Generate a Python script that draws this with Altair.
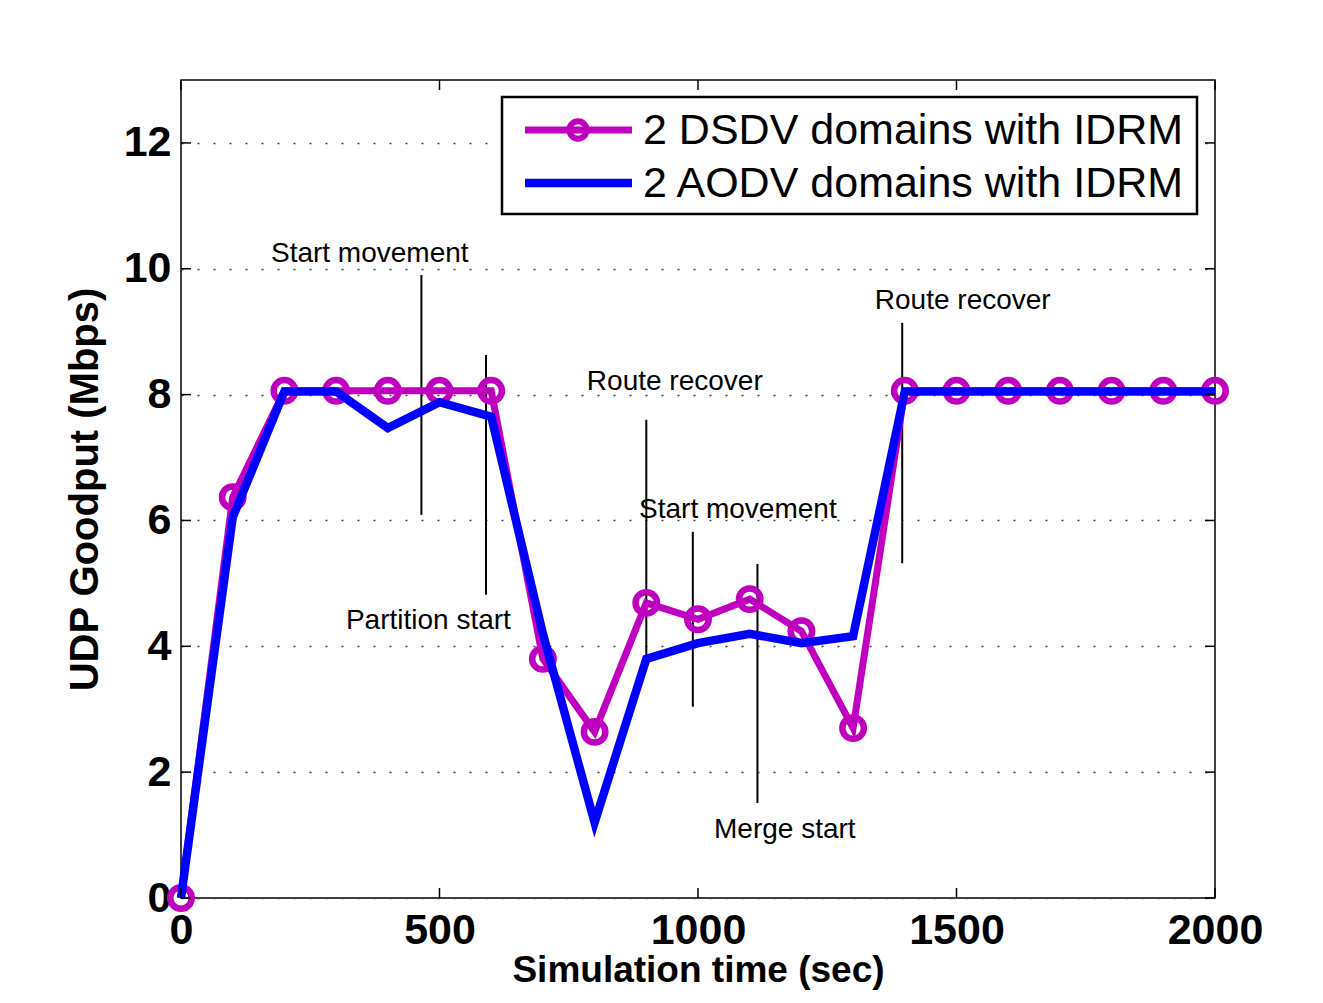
import altair as alt
import pandas as pd

# ---------------- data ----------------
time_sec = [0, 100, 200, 300, 400, 500, 600, 700, 800, 900, 1000,
            1100, 1200, 1300, 1400, 1500, 1600, 1700, 1800, 1900, 2000]
dsdv = [0, 6.37, 8.06, 8.06, 8.06, 8.06, 8.06, 3.80, 2.64, 4.69, 4.43,
        4.75, 4.24, 2.70, 8.06, 8.06, 8.06, 8.06, 8.06, 8.06, 8.06]
aodv = [0, 6.05, 8.05, 8.05, 7.47, 7.88, 7.65, 4.20, 1.20, 3.80, 4.05,
        4.20, 4.05, 4.16, 8.05, 8.05, 8.05, 8.05, 8.05, 8.05, 8.05]

series_names = ["2 DSDV domains with IDRM", "2 AODV domains with IDRM"]

# annotation vertical markers (x, y_top, y_bottom)
mark_x = [465, 590, 900, 990, 1115, 1395]
mark_top = [9.90, 8.63, 7.60, 5.82, 5.31, 9.14]
mark_bot = [6.09, 4.82, 3.78, 3.04, 1.51, 5.32]

# annotation labels (left x, middle y)
note_text = ["Start movement", "Route recover", "Start movement",
             "Partition start", "Merge start", "Route recover"]
note_x = [174, 785, 886, 319, 1031, 1342]
note_y = [10.24, 8.20, 6.17, 4.41, 1.08, 9.48]

x_ticks = [0, 500, 1000, 1500, 2000]
y_ticks = [0, 2, 4, 6, 8, 10, 12]

# ---------------- layout ----------------
W, H = 1034, 818
FONT = "Liberation Sans"
MAGENTA = "#BF00BF"
BLUE = "#0000FF"

df = pd.DataFrame({"t": time_sec, "dsdv": dsdv, "aodv": aodv})
marks_df = pd.DataFrame({"x": mark_x, "y1": mark_top, "y2": mark_bot})
notes_df = pd.DataFrame({"x": note_x, "y": note_y, "label": note_text})
xt_df = pd.DataFrame({"v": x_ticks})
yt_df = pd.DataFrame({"v": y_ticks})
one = pd.DataFrame({"a": [0]})
leg_df = pd.DataFrame({"label": series_names, "row": [0, 1]})

xscale = alt.Scale(domain=[0, 2000], nice=False, zero=False)
yscale = alt.Scale(domain=[0, 13], nice=False, zero=False)

xaxis = alt.Axis(values=x_ticks, ticks=False, domain=False, grid=False,
                 format="d",
                 labelFontSize=43, labelFontWeight="bold", labelFont=FONT,
                 labelColor="black", labelPadding=11, labelFlush=False,
                 title="Simulation time (sec)", titleFontSize=37,
                 titleFontWeight="bold", titleFont=FONT, titleColor="black",
                 titlePadding=0)
yaxis = alt.Axis(values=y_ticks, ticks=False, domain=False, grid=True,
                 gridColor="#444444", gridDash=[2, 14], gridWidth=1.5,
                 format="d",
                 labelFontSize=43, labelFontWeight="bold", labelFont=FONT,
                 labelColor="black", labelPadding=10, labelFlush=False,
                 title="UDP Goodput (Mbps)", titleFontSize=40,
                 titleFontWeight="bold", titleFont=FONT, titleColor="black",
                 titlePadding=18)


def X(field):
    return alt.X(field, type="quantitative", scale=xscale, axis=xaxis)


def Y(field):
    return alt.Y(field, type="quantitative", scale=yscale, axis=yaxis)


base = alt.Chart(df)

dsdv_line = base.mark_line(color=MAGENTA, strokeWidth=7, clip=False,
                           strokeJoin="miter").encode(x=X("t"), y=Y("dsdv"))
dsdv_pts = base.mark_point(shape="circle", filled=False, color=MAGENTA,
                           size=460, strokeWidth=6.5, opacity=1,
                           clip=False).encode(x=X("t"), y=Y("dsdv"))
aodv_line = base.mark_line(color=BLUE, strokeWidth=8.5, clip=False,
                           strokeJoin="miter").encode(x=X("t"), y=Y("aodv"))

ann_rules = alt.Chart(marks_df).mark_rule(color="black", strokeWidth=2).encode(
    x=X("x"), y=Y("y1"), y2="y2")
ann_text = alt.Chart(notes_df).mark_text(
    align="left", baseline="middle", fontSize=28, font=FONT, color="black"
).encode(x=X("x"), y=Y("y"), text="label:N")

# inward ticks on all four sides
tick_b = alt.Chart(xt_df).mark_rule(color="black", strokeWidth=1.5).encode(
    x=X("v"), y=alt.value(H), y2=alt.value(H - 10))
tick_t = alt.Chart(xt_df).mark_rule(color="black", strokeWidth=1.5).encode(
    x=X("v"), y=alt.value(0), y2=alt.value(10))
tick_l = alt.Chart(yt_df).mark_rule(color="black", strokeWidth=1.5).encode(
    y=Y("v"), x=alt.value(0), x2=alt.value(10))
tick_r = alt.Chart(yt_df).mark_rule(color="black", strokeWidth=1.5).encode(
    y=Y("v"), x=alt.value(W), x2=alt.value(W - 10))

# legend box
LX0, LX1, LY0, LY1 = 321, 1016, 17, 134
leg_box = alt.Chart(one).mark_rect(fill="white", stroke="black",
                                   strokeWidth=2.5).encode(
    x=alt.value(LX0), x2=alt.value(LX1), y=alt.value(LY0), y2=alt.value(LY1))
leg_line1 = alt.Chart(one).mark_rule(color=MAGENTA, strokeWidth=7).encode(
    x=alt.value(344), x2=alt.value(451), y=alt.value(50))
leg_pt1 = alt.Chart(one).mark_point(shape="circle", filled=False, color=MAGENTA,
                                    size=300, strokeWidth=6, opacity=1).encode(
    x=alt.value(397), y=alt.value(50))
leg_line2 = alt.Chart(one).mark_rule(color=BLUE, strokeWidth=8.5).encode(
    x=alt.value(344), x2=alt.value(451), y=alt.value(103))
leg_txt1 = alt.Chart(leg_df.iloc[[0]]).mark_text(
    align="left", baseline="middle", fontSize=43, font=FONT, color="black"
).encode(x=alt.value(462), y=alt.value(51), text="label:N")
leg_txt2 = alt.Chart(leg_df.iloc[[1]]).mark_text(
    align="left", baseline="middle", fontSize=43, font=FONT, color="black"
).encode(x=alt.value(462), y=alt.value(104), text="label:N")

chart = alt.layer(
    ann_rules, ann_text, dsdv_line, dsdv_pts, aodv_line,
    tick_b, tick_t, tick_l, tick_r,
    leg_box, leg_line1, leg_pt1, leg_line2, leg_txt1, leg_txt2,
).properties(
    width=W, height=H,
    background="white",
    autosize=alt.AutoSizeParams(type="none"),
    padding={"left": 173, "top": 72, "right": 95, "bottom": 93},
).configure_view(
    stroke="black", strokeWidth=1.5
)

chart.save("out.html", embed_options={"renderer": "svg", "actions": False})
